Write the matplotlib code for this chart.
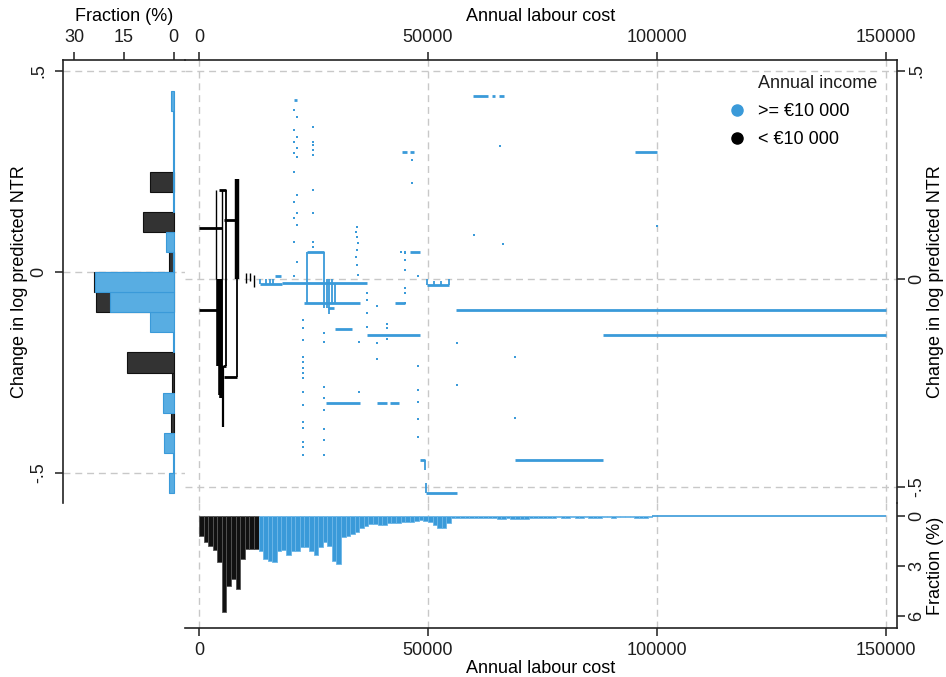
import matplotlib
matplotlib.use("Agg")
import matplotlib.pyplot as plt
from matplotlib.lines import Line2D

plt.rcParams['font.family'] = ['Liberation Sans', 'DejaVu Sans']
plt.rcParams['font.size'] = 13

BLUE = '#3a9ad9'
BLUE_BAR = '#58ade2'
DARK = '#333333'
GRID = '#c8c8c8'
TXT = '#1e1e1e'

# ---- left histogram: change in log predicted NTR (bins of .05, lower edges)
ntr_bins = [-0.55, -0.50, -0.45, -0.40, -0.35, -0.30, -0.25, -0.20, -0.15, -0.10,
            -0.05, 0.00, 0.05, 0.10, 0.15, 0.20, 0.25, 0.30, 0.35, 0.40]
ntr_frac_hi = [1.4, 0.2, 2.9, 0.0, 3.2, 0.0, 0.0, 0.2, 7.1, 19.0,
               23.6, 0.3, 2.2, 0.0, 0.1, 0.15, 0.1, 0.3, 0.2, 0.65]
ntr_frac_lo = [0.0, 0.0, 0.0, 0.7, 0.0, 0.4, 14.0, 0.0, 0.0, 23.3,
               24.1, 1.3, 0.0, 9.1, 0.0, 7.1, 0.0, 0.0, 0.0, 0.0]

# ---- bottom histogram: annual labour cost (bins of 1000)
cost_lo_start = 0
cost_frac_lo = [1.2, 1.55, 1.8, 2.05, 2.75, 5.75, 4.2, 3.8, 4.35, 2.6, 2.0, 2.0, 1.95]
cost_hi_start = 13000
cost_frac_hi = [2.1, 2.6, 2.7, 2.75, 2.08, 2.05, 2.35, 2.08, 2.08, 1.84,
                1.84, 2.08, 2.35, 1.84, 1.54, 1.78, 2.7, 2.9, 1.28, 1.2,
                1.08, 0.98, 0.74, 0.58, 0.5, 0.5, 0.56, 0.52, 0.44, 0.44,
                0.44, 0.38, 0.38, 0.34, 0.28, 0.24, 0.3, 0.38, 0.56, 0.74,
                0.74, 0.4, 0.14, 0.14, 0.12, 0.12, 0.12, 0.1, 0.12, 0.1,
                0.1, 0.12, 0.16, 0.16, 0.12, 0.18, 0.18, 0.18, 0.18, 0.12,
                0.1, 0.1, 0.12, 0.1, 0.1, 0.08, 0.1, 0.1, 0.08, 0.1,
                0.1, 0.08, 0.1, 0.1, 0.1, 0.08, 0.03, 0.1, 0.03, 0.03,
                0.03, 0.03, 0.1, 0.1, 0.1, 0.03, 0.0, 0.0, 0.0, 0.0,
                0.0, 0.0, 0.0, 0.0, 0.0, 0.0, 0.0, 0.0, 0.0, 0.0,
                0.0, 0.0, 0.0, 0.0, 0.0, 0.0, 0.0, 0.0, 0.0, 0.0,
                0.0, 0.0, 0.0, 0.0, 0.0, 0.0, 0.0, 0.0, 0.0, 0.0,
                0.0, 0.0, 0.0, 0.0, 0.0, 0.0, 0.0, 0.0, 0.0, 0.0,
                0.0, 0.0, 0.0, 0.0, 0.0, 0.0, 0.0]

# ---- main panel, income >= 10 000 (blue)
hi_h_x0 = [56200, 88100, 36700, 69100, 49600, 59800, 64000, 65400, 95300, 49800,
           46100, 18150, 22870, 42880, 29790, 27820, 38880, 41600, 20700, 44300,
           46000, 23600, 13400, 28200, 48200, 16700]
hi_h_x1 = [150000, 150000, 48300, 88300, 56300, 63200, 64700, 66500, 100000, 54500,
           48300, 36700, 35240, 45060, 33420, 35090, 41000, 43600, 21400, 45400,
           46900, 27200, 18150, 29400, 49400, 17800]
hi_h_y = [-0.075, -0.135, -0.135, -0.435, -0.514, 0.44, 0.44, 0.44, 0.305, -0.015,
          0.064, -0.009, -0.058, -0.058, -0.121, -0.299, -0.299, -0.299, 0.43, 0.306,
          0.306, 0.064, -0.012, -0.07, -0.435, 0.008]

hi_v_x = [23600, 27200, 27900, 28400, 29000, 29600, 49800, 51400, 52800, 54500,
          13400, 14600, 15400, 16200, 49600, 49400]
hi_v_y0 = [-0.058, -0.07, -0.07, -0.085, -0.06, -0.058, -0.015, -0.015, -0.015, -0.015,
           -0.012, -0.012, -0.012, -0.012, -0.514, -0.459]
hi_v_y1 = [0.064, 0.064, 0.0, 0.0, 0.0, -0.01, 0.0, -0.005, -0.005, 0.0,
           0.0, 0.0, 0.0, 0.0, -0.49, -0.435]

hi_pt_x = [20700, 21300, 20700, 21300, 20700, 21300, 20700, 21300, 20700, 21300,
           20700, 21300, 20700, 21300, 20700, 21300, 20700,
           24900, 24900, 24900, 24900, 24900, 24900, 24900, 24900, 24900,
           22700, 22700, 22700, 22700, 22700, 22700, 22700, 22700, 22700, 22700,
           22700, 22700, 22700, 22700, 22700,
           27300, 27300, 27300, 27300, 27300, 27300, 27300, 27300,
           34500, 34200, 34500, 34800, 34500, 34200, 34500, 34800,
           36700, 36700, 36700, 36700, 38900, 38900, 38900, 41000, 41000, 41000,
           45000, 45000, 45000, 45000, 45000, 45000, 46600, 46600,
           47900, 47900, 47900, 47900, 47900, 47900,
           59960, 65800, 66330, 56340, 56340, 69060, 69060, 99980, 44200, 45000,
           34900, 34900]
hi_pt_y = [0.406, 0.39, 0.358, 0.342, 0.33, 0.314, 0.302, 0.294, 0.258, 0.202,
           0.186, 0.158, 0.146, 0.130, 0.088, 0.042, 0.007,
           0.366, 0.33, 0.322, 0.31, 0.298, 0.214, 0.158, 0.088, 0.078,
           -0.099, -0.118, -0.147, -0.187, -0.199, -0.215, -0.227, -0.239, -0.271, -0.303,
           -0.343, -0.359, -0.391, -0.403, -0.423,
           -0.131, -0.151, -0.259, -0.287, -0.315, -0.361, -0.387, -0.423,
           0.126, 0.114, 0.102, 0.086, 0.07, 0.054, 0.034, 0.01,
           -0.034, -0.05, -0.082, -0.115, -0.064, -0.153, -0.193, -0.109, -0.117, -0.145,
           0.062, 0.046, 0.022, -0.022, -0.034, -0.058, 0.286, 0.23,
           0.006, -0.21, -0.267, -0.295, -0.337, -0.38,
           0.106, 0.32, 0.083, -0.155, -0.256, -0.187, -0.333, 0.128, 0.064, 0.064,
           -0.151, -0.271]

# ---- main panel, income < 10 000 (black)
lo_h_x0 = [0, 0, 4400, 5400, 5200, 5400]
lo_h_x1 = [5060, 3970, 6000, 7960, 6000, 8400]
lo_h_y = [0.122, -0.075, 0.214, 0.142, -0.21, -0.235]

lo_v_x = [8400, 8400, 5900, 3700, 5000, 4100, 4500, 4900, 4700, 5150, 10300, 11200, 12000]
lo_v_y0 = [0.0, -0.235, -0.21, 0.0, 0.0, -0.21, -0.28, -0.287, -0.21, -0.355, -0.01, -0.005, -0.02]
lo_v_y1 = [0.24, 0.0, 0.214, 0.214, 0.214, 0.0, 0.0, 0.0, 0.0, -0.21, 0.015, 0.015, 0.01]
lo_v_w = [3.2, 1.3, 1.3, 1.0, 1.0, 2.6, 2.6, 2.6, 2.6, 1.6, 1.0, 1.0, 1.0]

legend_labels = ['>= \u20ac10 000', '< \u20ac10 000']

W, H = 946, 677
fig = plt.figure(figsize=(W / 100, H / 100), dpi=100)
ax_l = fig.add_axes([63 / W, 1 - 503 / H, 122 / W, 443 / H])
ax_m = fig.add_axes([185 / W, 1 - 503 / H, 712 / W, 443 / H])
ax_b = fig.add_axes([185 / W, 1 - 628 / H, 712 / W, 125 / H])

grid_kw = dict(color=GRID, lw=1.0, ls=(0, (5, 3.5)), zorder=0)

# left histogram
for v_lo, v_hi, b in zip(ntr_frac_lo, ntr_frac_hi, ntr_bins):
    if v_lo > 0:
        ax_l.barh(b, v_lo, height=0.05, align='edge', color=DARK, edgecolor='#111111', lw=0.8, zorder=2)
    if v_hi > 0:
        ax_l.barh(b, v_hi, height=0.05, align='edge', color=BLUE_BAR, edgecolor=BLUE, lw=0.8, zorder=3)
ax_l.set_xlim(33.3, -3.45)
ax_l.set_ylim(-0.5746, 0.5274)
ax_l.set_xticks([30, 15, 0])
ax_l.set_yticks([0.5, 0, -0.5])
ax_l.set_yticklabels(['.5', '0', '-.5'])
for yy in [0.5, 0, -0.5]:
    ax_l.axhline(yy, **grid_kw)
ax_l.xaxis.set_ticks_position('top')
ax_l.xaxis.set_label_position('top')
ax_l.set_xlabel('Fraction (%)', labelpad=6)
ax_l.set_ylabel('Change in log predicted NTR', labelpad=2)
ax_l.spines['bottom'].set_visible(False)
ax_l.spines['right'].set_visible(False)
ax_l.tick_params(axis='y', labelrotation=90, length=6, width=1.1, pad=5, colors=TXT)
ax_l.tick_params(axis='x', length=6, width=1.1, pad=4, colors=TXT)
for lab in ax_l.get_yticklabels():
    lab.set_va('center')

# main panel
ax_m.hlines(hi_h_y, hi_h_x0, hi_h_x1, color=BLUE, lw=2.0, zorder=3)
ax_m.vlines(hi_v_x, hi_v_y0, hi_v_y1, color=BLUE, lw=1.3, zorder=3)
ax_m.plot(hi_pt_x, hi_pt_y, ls='none', marker='s', ms=2.0, mew=0, color=BLUE, zorder=3)
ax_m.hlines(lo_h_y, lo_h_x0, lo_h_x1, color='black', lw=2.0, zorder=4)
ax_m.vlines(lo_v_x, lo_v_y0, lo_v_y1, color='black', lw=lo_v_w, zorder=4)
ax_m.set_xlim(-3057, 152400)
ax_m.set_ylim(-0.5385, 0.5264)
ax_m.set_xticks([0, 50000, 100000, 150000])
ax_m.set_yticks([0.5, 0, -0.5])
ax_m.set_yticklabels(['.5', '0', '-.5'])
for yy in [0.5, 0, -0.5]:
    ax_m.axhline(yy, **grid_kw)
for xx in [0, 50000, 100000, 150000]:
    ax_m.axvline(xx, **grid_kw)
ax_m.xaxis.set_ticks_position('top')
ax_m.xaxis.set_label_position('top')
ax_m.yaxis.set_ticks_position('right')
ax_m.yaxis.set_label_position('right')
ax_m.set_xlabel('Annual labour cost', labelpad=6)
ax_m.set_ylabel('Change in log predicted NTR', labelpad=1)
ax_m.spines['bottom'].set_visible(False)
ax_m.spines['left'].set_visible(False)
ax_m.tick_params(axis='y', labelrotation=90, length=6, width=1.1, pad=2, colors=TXT)
ax_m.tick_params(axis='x', length=6, width=1.1, pad=4, colors=TXT)
for lab in ax_m.get_yticklabels():
    lab.set_va('center')

handles = [Line2D([], [], ls='none', marker='o', ms=8, color=BLUE),
           Line2D([], [], ls='none', marker='o', ms=8, color='black')]
ax_m.legend(handles, legend_labels, loc='upper left', bbox_to_anchor=(0.7528, 0.919),
            frameon=False, handlelength=1.0, handletextpad=0.67, labelspacing=0.6,
            borderaxespad=0)
ax_m.text(0.805, 0.948, 'Annual income', transform=ax_m.transAxes, ha='left', va='center', color=TXT)

# bottom histogram
for i, v in enumerate(cost_frac_lo):
    ax_b.bar(cost_lo_start + i * 1000, v, width=1000, align='edge', color='#111111',
             edgecolor='#555555', lw=0.6, zorder=2)
for i, v in enumerate(cost_frac_hi):
    ax_b.bar(cost_hi_start + i * 1000, v, width=1000, align='edge', color=BLUE,
             edgecolor='#6db7e8' if v > 0 else BLUE, lw=0.6 if v > 0 else 1.2, zorder=3)
ax_b.set_xlim(-3057, 152400)
ax_b.set_ylim(6.72, -0.78)
ax_b.set_xticks([0, 50000, 100000, 150000])
ax_b.set_yticks([0, 3, 6])
for xx in [0, 50000, 100000, 150000]:
    ax_b.axvline(xx, **grid_kw)
ax_b.yaxis.set_ticks_position('right')
ax_b.yaxis.set_label_position('right')
ax_b.set_xlabel('Annual labour cost', labelpad=1)
ax_b.set_ylabel('Fraction (%)', labelpad=1)
ax_b.spines['top'].set_visible(False)
ax_b.spines['left'].set_visible(False)
ax_b.tick_params(axis='y', labelrotation=90, length=6, width=1.1, pad=2, colors=TXT)
ax_b.tick_params(axis='x', length=6, width=1.1, pad=4, colors=TXT)
for lab in ax_b.get_yticklabels():
    lab.set_va('center')

for ax in (ax_l, ax_m, ax_b):
    for s in ax.spines.values():
        s.set_color('#222222')
        s.set_linewidth(1.2)
    ax.set_facecolor('none')

fig.savefig('out.png', dpi=100)
